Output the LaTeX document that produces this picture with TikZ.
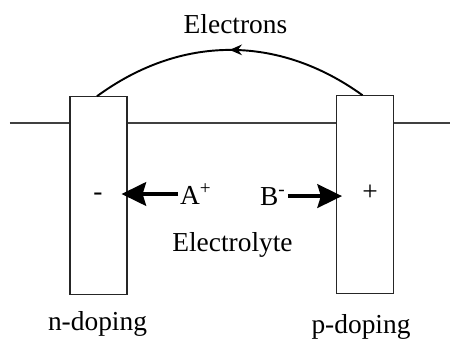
\documentclass[tikz,border=0pt]{standalone}
\usepackage{fontspec}
\setmainfont{Liberation Serif}
\usetikzlibrary{arrows.meta,decorations.markings}

\begin{document}
\begin{tikzpicture}[
        font=\fontsize{15.6}{18}\selectfont,
        electrode/.style={draw=black!85, line width=0.6pt, fill=white,
            minimum width=1.14cm, minimum height=3.95cm, inner sep=0pt},
        ion/.style={-{Stealth[length=14pt,width=13.5pt,inset=2pt]}, line width=1.8pt},
        txt/.style={inner sep=1pt}
    ]
        \useasboundingbox (0,0) rectangle (9.12,6.8);

        % Define node positions
        \coordinate (wL) at (0.2, 4.34); \coordinate (wR) at (9.0, 4.34);
        \draw[line width=0.6pt, black!75] (wL) -- (wR);
        \node[electrode] (nL) at (1.97, 2.89) {}; \node[electrode] (nR) at
        (7.30, 2.91) {};

        % Electron flow
        \draw[line width=1.1pt, postaction={decorate}, decoration={markings,
        mark=at position 0.5 with {\arrow{Stealth[length=7pt,width=6pt]}}}]
        ([xshift=-0.05cm]nR.north) to[bend right=36] ([xshift=-0.03cm]nL.north);
        \node[anchor=base] (elec) at (4.71, 6.14) {Electrons};

        % Ions and charges
        \node[anchor=base] (minus) at (1.96, 2.8) {-}; \node[anchor=base] (plus)
        at (7.40, 2.8) {+};
        \node[txt, anchor=base west] (A) at (3.56, 2.72) {A\textsuperscript{+}};
        \node[txt, anchor=base west] (B) at (5.16, 2.70) {B\textsuperscript{-}};
        \draw[ion] (A.west) -- ([xshift=-1.2mm]A.west -| nL.east);
        \draw[ion] (B.east) -- ([xshift=1.2mm]B.east -| nR.west);

        % Labels
        \node[anchor=base] (lyte) at (4.65, 1.78) {Electrolyte};
        \node[anchor=base] (ndop) at (1.95, 0.2) {n-doping};
        \node[anchor=base] (pdop) at (7.22, 0.14) {p-doping};
    \end{tikzpicture}
\end{document}
